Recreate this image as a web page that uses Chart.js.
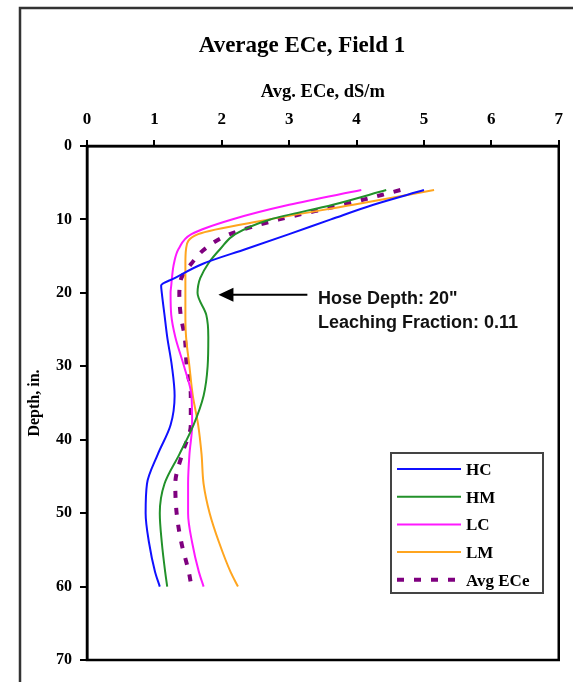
<!DOCTYPE html>
<html>
<head>
<meta charset="utf-8">
<script src="https://cdn.jsdelivr.net/npm/chart.js@4.4.1/dist/chart.umd.min.js"></script>
<style>
  html, body { margin: 0; padding: 0; background: #fff; }
  #wrap { width: 573px; height: 682px; }
</style>
</head>
<body>
<div id="wrap"><canvas id="myChart" width="573" height="682"></canvas></div>
<script>
// depth (in.) at which each profile was read
const depths = [6, 8, 10, 12, 14, 16, 18, 19, 20, 23, 26, 30, 34, 38, 42, 46, 50, 54, 58, 60];
// ECe (dS/m) per treatment
const hc  = [5.00, 4.25, 3.62, 3.00, 2.37, 1.73, 1.30, 1.10, 1.11, 1.15, 1.19, 1.26, 1.30, 1.24, 1.05, 0.89, 0.87, 0.92, 1.01, 1.08];
const hm  = [4.44, 3.65, 2.72, 2.20, 1.98, 1.80, 1.68, 1.65, 1.64, 1.77, 1.80, 1.79, 1.73, 1.58, 1.37, 1.15, 1.08, 1.11, 1.16, 1.19];
const lc  = [4.07, 3.00, 2.15, 1.55, 1.36, 1.29, 1.26, 1.25, 1.24, 1.25, 1.31, 1.44, 1.55, 1.56, 1.52, 1.50, 1.50, 1.56, 1.66, 1.73];
const lm  = [5.15, 3.95, 2.70, 1.65, 1.47, 1.46, 1.46, 1.46, 1.46, 1.46, 1.47, 1.52, 1.57, 1.65, 1.70, 1.73, 1.82, 1.96, 2.13, 2.24];
const avg = [4.65, 3.80, 2.85, 2.12, 1.75, 1.55, 1.40, 1.38, 1.37, 1.39, 1.45, 1.48, 1.54, 1.54, 1.41, 1.31, 1.33, 1.40, 1.51, 1.55];

const ecTicks = [0, 1, 2, 3, 4, 5, 6, 7];
const depthTicks = [0, 10, 20, 30, 40, 50, 60, 70];

const SERIF = "'Liberation Serif', 'Times New Roman', serif";
const SANS = "'Liberation Sans', Arial, sans-serif";

function profile(vals) {
  return vals.map((v, i) => ({ x: v, y: depths[i] }));
}

// frame, title, legend box and the hose depth note
const extras = {
  id: 'extras',
  beforeDraw(chart) {
    const c = chart.ctx;
    c.save();
    c.fillStyle = '#fff';
    c.fillRect(0, 0, chart.width, chart.height);
    c.strokeStyle = '#333';
    c.lineWidth = 2.5;
    c.strokeRect(20, 8, 600, 720);
    c.restore();
  },
  afterDraw(chart) {
    const c = chart.ctx;
    const a = chart.chartArea;
    const sx = chart.scales.x, sy = chart.scales.y;
    c.save();
    // plot box
    c.strokeStyle = '#000';
    c.lineWidth = 2.5;
    c.strokeRect(a.left, a.top, a.right - a.left, a.bottom - a.top);

    // title
    c.fillStyle = '#000';
    c.font = 'bold 23px ' + SERIF;
    c.textAlign = 'center';
    c.textBaseline = 'alphabetic';
    c.fillText('Average ECe, Field 1', 302, 52);

    // arrow to hose depth
    const yA = sy.getPixelForValue(20) + 2;
    const tip = sx.getPixelForValue(1.95);
    const tail = sx.getPixelForValue(3.27);
    c.strokeStyle = '#000';
    c.lineWidth = 2;
    c.beginPath();
    c.moveTo(tail, yA);
    c.lineTo(tip + 12, yA);
    c.stroke();
    c.beginPath();
    c.moveTo(tip, yA);
    c.lineTo(tip + 15, yA - 7);
    c.lineTo(tip + 15, yA + 7);
    c.closePath();
    c.fill();
    c.font = 'bold 18px ' + SANS;
    c.textAlign = 'left';
    c.fillStyle = '#111';
    c.fillText('Hose Depth: 20"', 318, yA + 9);
    c.fillText('Leaching Fraction: 0.11', 318, yA + 33);

    // legend
    c.strokeStyle = '#444';
    c.lineWidth = 2;
    c.strokeRect(391, 453, 152, 140);
    c.font = 'bold 17px ' + SERIF;
    chart.data.datasets.forEach((ds, i) => {
      const ly = 469 + i * 27.7;
      c.strokeStyle = ds.borderColor;
      c.lineWidth = ds.borderWidth;
      c.setLineDash(ds.borderDash || []);
      c.beginPath();
      c.moveTo(397, ly);
      c.lineTo(461, ly);
      c.stroke();
      c.setLineDash([]);
      c.fillStyle = '#000';
      c.fillText(ds.label, 466, ly + 6);
    });
    c.restore();
  }
};

const ctx = document.getElementById('myChart');

new Chart(ctx, {
  type: 'line',
  data: {
    datasets: [
      { label: 'HC', data: profile(hc), borderColor: '#1010ff', borderWidth: 2 },
      { label: 'HM', data: profile(hm), borderColor: '#22912a', borderWidth: 2 },
      { label: 'LC', data: profile(lc), borderColor: '#ff19ff', borderWidth: 2 },
      { label: 'LM', data: profile(lm), borderColor: '#ffa51f', borderWidth: 2 },
      { label: 'Avg ECe', data: profile(avg), borderColor: '#7f007f', borderWidth: 4, borderDash: [7, 10] }
    ]
  },
  options: {
    responsive: false,
    animation: false,
    devicePixelRatio: 1,
    indexAxis: 'y',
    layout: { padding: { top: 62, left: 22, right: 10, bottom: 22 } },
    elements: {
      point: { radius: 0 },
      line: { cubicInterpolationMode: 'monotone', fill: false }
    },
    plugins: {
      legend: { display: false },
      title: { display: false },
      tooltip: { enabled: false }
    },
    scales: {
      x: {
        type: 'linear',
        position: 'top',
        min: 0,
        max: 7,
        afterBuildTicks: s => { s.ticks = ecTicks.map(v => ({ value: v })); },
        afterFit: s => { s.height = 84; },
        grid: { drawOnChartArea: false, drawTicks: true, tickLength: 6, color: '#000', lineWidth: 2 },
        border: { display: true, color: '#000', width: 2.5 },
        ticks: { color: '#000', padding: 10, font: { family: SERIF, size: 17, weight: 'bold' } },
        title: {
          display: true,
          text: 'Avg. ECe, dS/m',
          color: '#000',
          padding: { top: 19, bottom: 0 },
          font: { family: SERIF, size: 18.5, weight: 'bold' }
        }
      },
      y: {
        type: 'linear',
        reverse: true,
        min: 0,
        max: 70,
        afterBuildTicks: s => { s.ticks = depthTicks.map(v => ({ value: v })); },
        afterFit: s => { s.width = 65; },
        grid: { drawOnChartArea: false, drawTicks: true, tickLength: 7, color: '#000', lineWidth: 2 },
        border: { display: true, color: '#000', width: 2.5 },
        ticks: { color: '#000', padding: 8, font: { family: SERIF, size: 16, weight: 'bold' } },
        title: {
          display: true,
          text: 'Depth, in.',
          color: '#000',
          padding: { top: 3, bottom: 0 },
          font: { family: SERIF, size: 16, weight: 'bold' }
        }
      }
    }
  },
  plugins: [extras]
});
</script>
</body>
</html>
